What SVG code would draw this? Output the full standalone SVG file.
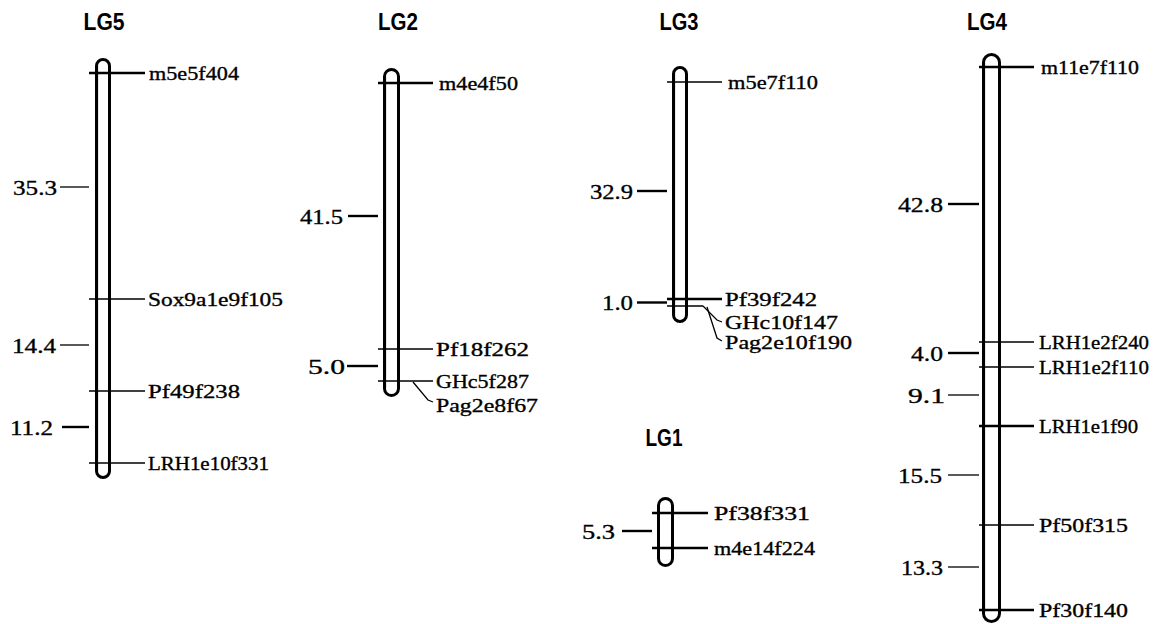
<svg xmlns="http://www.w3.org/2000/svg" width="1155" height="624" viewBox="0 0 1155 624">
<style>
.bg{fill:#fff}
.chr{fill:none;stroke:#000;stroke-width:3}
.edge{stroke:#000;stroke-width:2.2}
.thin{stroke:#000;stroke-width:1.3;fill:none}
.thick{stroke:#000;stroke-width:2.4;fill:none}
.t{font-family:"Liberation Sans",Arial,sans-serif;font-weight:bold;font-size:23px;fill:#000;text-anchor:middle}
.m{font-family:"Liberation Serif","Times New Roman",serif;font-size:19.5px;fill:#000;stroke:#000;stroke-width:0.35}
.d{font-family:"Liberation Serif","Times New Roman",serif;font-size:22px;fill:#000;stroke:#000;stroke-width:0.35;text-anchor:end}
</style>
<rect class="bg" x="0" y="0" width="1155" height="624"/>

<g id="LG5">
<text class="t" x="104" y="30" textLength="41" lengthAdjust="spacingAndGlyphs">LG5</text>
<rect class="chr" x="96.5" y="59.5" width="13" height="418" rx="6.5"/>
<line class="edge" x1="97" y1="66" x2="97" y2="471"/>
</g>
<g id="LG2">
<text class="t" x="398" y="30" textLength="40" lengthAdjust="spacingAndGlyphs">LG2</text>
<rect class="chr" x="384.5" y="69.5" width="14" height="326" rx="7"/>
<line class="edge" x1="385" y1="77" x2="385" y2="388"/>
</g>
<g id="LG3">
<text class="t" x="679" y="30" textLength="39" lengthAdjust="spacingAndGlyphs">LG3</text>
<rect class="chr" x="673.5" y="67.5" width="13" height="254" rx="6.5"/>
<line class="edge" x1="674" y1="74" x2="674" y2="315"/>
</g>
<g id="LG1">
<text class="t" x="664" y="446" textLength="37" lengthAdjust="spacingAndGlyphs">LG1</text>
<rect class="chr" x="658.5" y="498.5" width="14" height="67" rx="7"/>
</g>
<g id="LG4">
<text class="t" x="987" y="30" textLength="40" lengthAdjust="spacingAndGlyphs">LG4</text>
<rect class="chr" x="983.5" y="54.5" width="16" height="567" rx="8"/>
<line class="edge" x1="984" y1="63" x2="984" y2="613"/>
</g>

<g id="connectors">
<!-- LG5 -->
<line class="thick" x1="89" y1="73" x2="145" y2="73"/>
<line class="thin" x1="60" y1="187" x2="89" y2="187"/>
<line class="thin" x1="89" y1="299" x2="145" y2="299"/>
<line class="thin" x1="60" y1="345" x2="89" y2="345"/>
<line class="thin" x1="89" y1="391" x2="145" y2="391"/>
<line class="thick" x1="62" y1="427" x2="89" y2="427"/>
<line class="thin" x1="89" y1="463" x2="145" y2="463"/>
<!-- LG2 -->
<line class="thick" x1="378" y1="83" x2="433" y2="83"/>
<line class="thick" x1="348" y1="216" x2="378" y2="216"/>
<line class="thin" x1="378" y1="349" x2="433" y2="349"/>
<line class="thick" x1="347" y1="366" x2="378" y2="366"/>
<line class="thin" x1="378" y1="381" x2="433" y2="381"/>
<polyline class="thin" points="413,382 428,400 433,402"/>
<!-- LG3 -->
<line class="thin" x1="667" y1="82" x2="722" y2="82"/>
<line class="thick" x1="637" y1="191" x2="667" y2="191"/>
<line class="thick" x1="667" y1="299" x2="722" y2="299"/>
<line class="thick" x1="637" y1="302.5" x2="667" y2="302.5"/>
<line class="thin" x1="667" y1="306" x2="703" y2="306"/>
<polyline class="thin" points="703,306 717,320 722,322"/>
<polyline class="thin" points="707,307 717,338 722,341"/>
<!-- LG1 -->
<line class="thick" x1="652" y1="513" x2="708" y2="513"/>
<line class="thick" x1="622" y1="531" x2="652" y2="531"/>
<line class="thick" x1="652" y1="548" x2="708" y2="548"/>
<!-- LG4 -->
<line class="thick" x1="979" y1="67" x2="1034" y2="67"/>
<line class="thick" x1="948" y1="204" x2="979" y2="204"/>
<line class="thin" x1="979" y1="342" x2="1034" y2="342"/>
<line class="thick" x1="948" y1="353" x2="979" y2="353"/>
<line class="thin" x1="979" y1="367" x2="1034" y2="367"/>
<line class="thin" x1="948" y1="395" x2="979" y2="395"/>
<line class="thick" x1="979" y1="426" x2="1034" y2="426"/>
<line class="thin" x1="948" y1="475" x2="979" y2="475"/>
<line class="thin" x1="979" y1="525" x2="1034" y2="525"/>
<line class="thin" x1="948" y1="567" x2="979" y2="567"/>
<line class="thick" x1="979" y1="610" x2="1034" y2="610"/>
</g>

<g id="labels">
<!-- LG5 -->
<text class="m" x="149" y="80" textLength="90" lengthAdjust="spacingAndGlyphs">m5e5f404</text>
<text class="d" x="57" y="195" textLength="44" lengthAdjust="spacingAndGlyphs">35.3</text>
<text class="m" x="148" y="306" textLength="135" lengthAdjust="spacingAndGlyphs">Sox9a1e9f105</text>
<text class="d" x="56" y="353" textLength="44" lengthAdjust="spacingAndGlyphs">14.4</text>
<text class="m" x="148" y="398" textLength="92" lengthAdjust="spacingAndGlyphs">Pf49f238</text>
<text class="d" x="53" y="435" textLength="43" lengthAdjust="spacingAndGlyphs">11.2</text>
<text class="m" x="148" y="470" textLength="121" lengthAdjust="spacingAndGlyphs">LRH1e10f331</text>
<!-- LG2 -->
<text class="m" x="439" y="90" textLength="79" lengthAdjust="spacingAndGlyphs">m4e4f50</text>
<text class="d" x="343" y="224" textLength="43" lengthAdjust="spacingAndGlyphs">41.5</text>
<text class="m" x="436" y="356" textLength="93" lengthAdjust="spacingAndGlyphs">Pf18f262</text>
<text class="d" x="345" y="374" textLength="37" lengthAdjust="spacingAndGlyphs">5.0</text>
<text class="m" x="436" y="388" textLength="93" lengthAdjust="spacingAndGlyphs">GHc5f287</text>
<text class="m" x="436" y="412" textLength="102" lengthAdjust="spacingAndGlyphs">Pag2e8f67</text>
<!-- LG3 -->
<text class="m" x="728" y="89" textLength="90" lengthAdjust="spacingAndGlyphs">m5e7f110</text>
<text class="d" x="633" y="199" textLength="43" lengthAdjust="spacingAndGlyphs">32.9</text>
<text class="m" x="725" y="306" textLength="92" lengthAdjust="spacingAndGlyphs">Pf39f242</text>
<text class="d" x="633" y="310" textLength="31" lengthAdjust="spacingAndGlyphs">1.0</text>
<text class="m" x="725" y="329" textLength="113" lengthAdjust="spacingAndGlyphs">GHc10f147</text>
<text class="m" x="725" y="349" textLength="127" lengthAdjust="spacingAndGlyphs">Pag2e10f190</text>
<!-- LG1 -->
<text class="m" x="714" y="520" textLength="96" lengthAdjust="spacingAndGlyphs">Pf38f331</text>
<text class="d" x="615" y="539" textLength="33" lengthAdjust="spacingAndGlyphs">5.3</text>
<text class="m" x="714" y="555" textLength="101" lengthAdjust="spacingAndGlyphs">m4e14f224</text>
<!-- LG4 -->
<text class="m" x="1041" y="74" textLength="98" lengthAdjust="spacingAndGlyphs">m11e7f110</text>
<text class="d" x="943" y="212" textLength="45" lengthAdjust="spacingAndGlyphs">42.8</text>
<text class="m" x="1039" y="349" textLength="110" lengthAdjust="spacingAndGlyphs">LRH1e2f240</text>
<text class="d" x="943" y="361" textLength="32" lengthAdjust="spacingAndGlyphs">4.0</text>
<text class="m" x="1039" y="374" textLength="110" lengthAdjust="spacingAndGlyphs">LRH1e2f110</text>
<text class="d" x="945" y="403" textLength="37" lengthAdjust="spacingAndGlyphs">9.1</text>
<text class="m" x="1039" y="433" textLength="99" lengthAdjust="spacingAndGlyphs">LRH1e1f90</text>
<text class="d" x="942" y="483" textLength="44" lengthAdjust="spacingAndGlyphs">15.5</text>
<text class="m" x="1039" y="532" textLength="89" lengthAdjust="spacingAndGlyphs">Pf50f315</text>
<text class="d" x="943" y="575" textLength="42" lengthAdjust="spacingAndGlyphs">13.3</text>
<text class="m" x="1039" y="617" textLength="89" lengthAdjust="spacingAndGlyphs">Pf30f140</text>
</g>
</svg>
